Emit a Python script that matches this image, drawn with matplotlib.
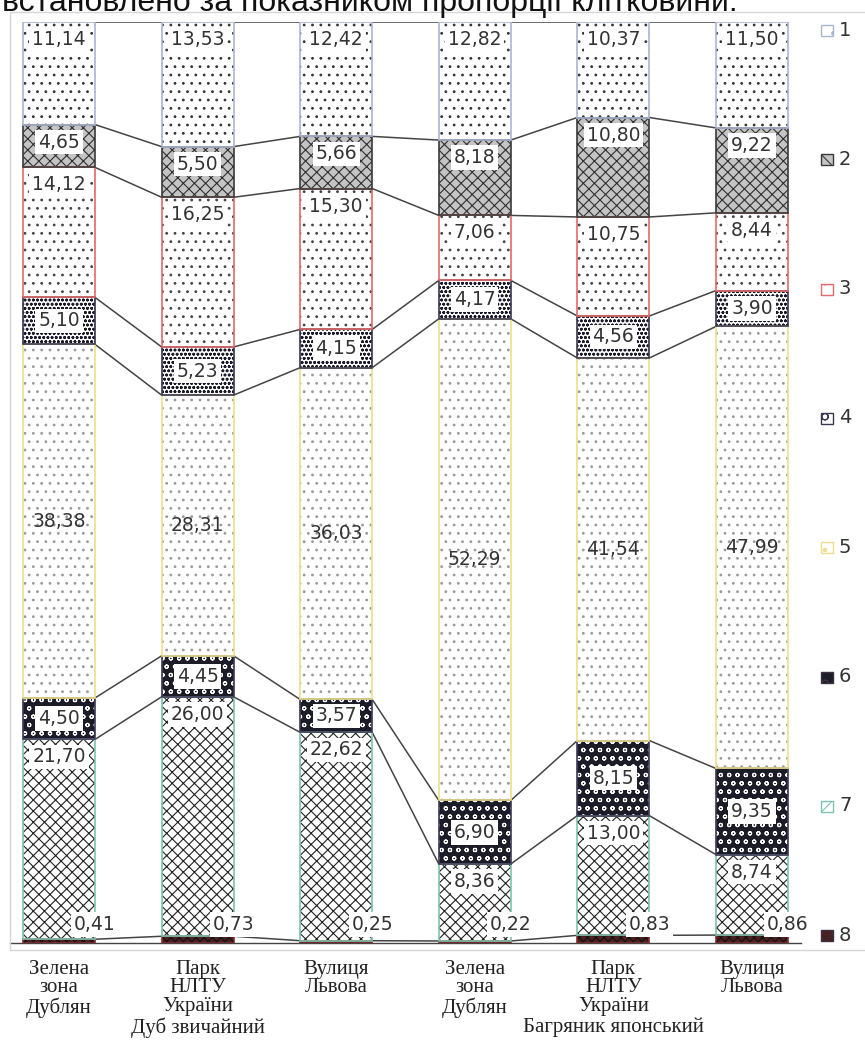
import matplotlib.pyplot as plt
import numpy as np
from matplotlib.patches import Rectangle

plt.rcParams['hatch.linewidth'] = 0.8

# Places (two species, three sites each)
sites = ['Зелена\nзона\nДублян', 'Парк\nНЛТУ\nУкраїни', 'Вулиця\nЛьвова',
         'Зелена\nзона\nДублян', 'Парк\nНЛТУ\nУкраїни', 'Вулиця\nЛьвова']
species = ['Дуб звичайний', 'Багряник японський']

# Shares of the groups, %, groups 1..8 (1 is drawn on top, 8 at the bottom)
g1 = [11.14, 13.53, 12.42, 12.82, 10.37, 11.50]
g2 = [4.65, 5.50, 5.66, 8.18, 10.80, 9.22]
g3 = [14.12, 16.25, 15.30, 7.06, 10.75, 8.44]
g4 = [5.10, 5.23, 4.15, 4.17, 4.56, 3.90]
g5 = [38.38, 28.31, 36.03, 52.29, 41.54, 47.99]
g6 = [4.50, 4.45, 3.57, 6.90, 8.15, 9.35]
g7 = [21.70, 26.00, 22.62, 8.36, 13.00, 8.74]
g8 = [0.41, 0.73, 0.25, 0.22, 0.83, 0.86]
groups = ['1', '2', '3', '4', '5', '6', '7', '8']

series = [g1, g2, g3, g4, g5, g6, g7, g8]
# (face, hatch colour, hatch, edge)
styles = [
    ('white', '#333333', '..', '#a9b6d2'),
    ('#c4c4c4', '#303030', 'xxx', '#3a3a3a'),
    ('white', '#444444', '..', '#e06a6a'),
    ('white', '#1a1a2a', 'oooo', '#3a3550'),
    ('white', '#9a9a9a', '..', '#eedf8a'),
    ('#1c1c28', 'white', 'oo', '#403a58'),
    ('white', '#222222', 'xxx', '#7cc4ae'),
    ('#4a2020', '#111111', 'xxxx', '#8a2a2a'),
]
label_pos = ['top', 'top', 'top', 'mid', 'mid', 'mid', 'top', 'side']

fig = plt.figure(figsize=(8.65, 10.48), dpi=100)
W, H = 865, 1048
ax = fig.add_axes([10 / W, 1 - 943 / H, 791 / W, 921 / H])

x = np.arange(len(sites))
w = 0.52

# stacking from the bottom: group 8 first
order = list(range(7, -1, -1))
bottom = np.zeros(len(sites))
tops = {}
for k in order:
    vals = np.array(series[k])
    face, hc, hatch, edge = styles[k]
    ax.bar(x, vals, w, bottom=bottom, color=face, edgecolor=hc, hatch=hatch,
           linewidth=0, zorder=2)
    ax.bar(x, vals, w, bottom=bottom, fill=False, edgecolor=edge,
           linewidth=1.2, zorder=3)
    tops[k] = bottom + vals
    for i in range(len(sites)):
        v = vals[i]
        txt = f'{v:.2f}'.replace('.', ',')
        box = dict(boxstyle='square,pad=0.15', fc='white', ec='none')
        if label_pos[k] == 'top':
            ax.text(x[i], bottom[i] + v - 1.9, txt, ha='center', va='center',
                    fontsize=13.5, color='#333333', bbox=box, zorder=5)
        elif label_pos[k] == 'side':
            ax.text(x[i] + w / 2, 2.0, txt, ha='center', va='center',
                    fontsize=13.5, color='#333333', bbox=box, zorder=5)
        elif k == 4:
            ax.text(x[i], bottom[i] + v / 2, txt, ha='center', va='center',
                    fontsize=13.5, color='#333333', zorder=5)
        else:
            ax.text(x[i], bottom[i] + v / 2, txt, ha='center', va='center',
                    fontsize=13.5, color='#333333', bbox=box, zorder=5)
    bottom = bottom + vals

# series lines between neighbouring bars
for k in order:
    t = tops[k]
    for i in range(len(sites) - 1):
        ax.plot([x[i] + w / 2, x[i + 1] - w / 2], [t[i], t[i + 1]],
                color='#444444', linewidth=1.1, zorder=1)

ax.set_xlim(-0.354, 5.354)
ax.set_ylim(0, 100)
ax.set_yticks([])
ax.set_xticks(x)
ax.set_xticklabels(sites, family='Liberation Serif', fontsize=15,
                   color='#222222', linespacing=0.98)
ax.tick_params(axis='x', length=0, pad=12)
for s in ['top', 'right', 'left']:
    ax.spines[s].set_visible(False)
ax.spines['bottom'].set_color('#444444')
ax.spines['bottom'].set_linewidth(1.0)
ax.patch.set_alpha(0)

# species captions under the middle bar of each trio
for j, name in enumerate(species):
    ax.text(3 * j + 1, -9.2, name, ha='center', va='center',
            family='Liberation Serif', fontsize=15, color='#222222',
            transform=ax.transData, clip_on=False)

# legend column
for k in range(8):
    face, hc, hatch, edge = styles[k]
    yk = 1 - (30 + k * 129.3) / H
    fig.patches.append(Rectangle((821 / W, yk - 6 / H), 12 / W, 11 / H,
                                 transform=fig.transFigure, facecolor=face,
                                 edgecolor=edge if k not in (5, 7) else '#3a3040',
                                 hatch=hatch[:1], linewidth=1.0))
    fig.text(839 / W, yk, groups[k], ha='left', va='center', fontsize=14,
             color='#333333')

# outer frame
fig.patches.append(Rectangle((10 / W, 1 - 950 / H), 1.0, 938 / H,
                             transform=fig.transFigure, fill=False,
                             edgecolor='#d6d6d6', linewidth=1.0))

fig.text(2 / W, 1 - 11 / H, 'встановлено за показником пропорції клітковини.',
         ha='left', va='baseline', fontsize=23, family='Liberation Sans',
         color='#111111')

fig.savefig('out.png', dpi=100)
